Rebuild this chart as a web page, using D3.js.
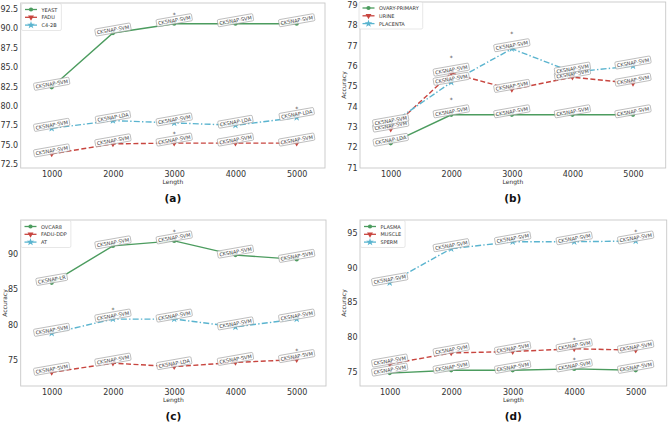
<!DOCTYPE html>
<html><head><meta charset="utf-8">
<title>Accuracy vs Length</title>
<script src="https://cdn.jsdelivr.net/npm/d3@7"></script>
<style>
body { margin: 0; background: #fff; }
text { font-family: "DejaVu Sans", sans-serif; }
</style>
</head>
<body>
<script>

// x categories shared by all panels
var lengths = [1000, 2000, 3000, 4000, 5000];

// (a)
var yeastAcc = [82.4, 89.4, 90.6, 90.6, 90.6];
var faduAcc = [73.8, 75.1, 75.2, 75.2, 75.2];
var c42bAcc = [77.1, 78.1, 77.8, 77.5, 78.5];
var yeastModel = ["CKSNAP-SVM", "CKSNAP-SVM", "CKSNAP-SVM", "CKSNAP-SVM", "CKSNAP-SVM"];
var faduModel = ["CKSNAP-SVM", "CKSNAP-SVM", "CKSNAP-SVM", "CKSNAP-SVM", "CKSNAP-SVM"];
var c42bModel = ["CKSNAP-SVM", "CKSNAP-LDA", "CKSNAP-SVM", "CKSNAP-LDA", "CKSNAP-LDA"];
var ticksA = [72.5, 75.0, 77.5, 80.0, 82.5, 85.0, 87.5, 90.0, 92.5];

// (b)
var ovaryAcc = [72.2, 73.6, 73.6, 73.6, 73.6];
var urineAcc = [72.9, 75.65, 74.85, 75.45, 75.15];
var placentaAcc = [73.15, 75.2, 76.85, 75.7, 76.0];
var ovaryModel = ["CKSNAP-LDA", "CKSNAP-SVM", "CKSNAP-SVM", "CKSNAP-SVM", "CKSNAP-SVM"];
var urineModel = ["CKSNAP-SVM", "CKSNAP-SVM", "CKSNAP-SVM", "CKSNAP-SVM", "CKSNAP-SVM"];
var placentaModel = ["CKSNAP-SVM", "CKSNAP-SVM", "CKSNAP-SVM", "CKSNAP-SVM", "CKSNAP-SVM"];
var ticksB = [71, 72, 73, 74, 75, 76, 77, 78, 79];

// (c)
var ovcar8Acc = [85.9, 91.1, 91.8, 89.8, 89.2];
var faduDdpAcc = [73.3, 74.6, 74.1, 74.7, 75.1];
var atAcc = [78.8, 80.8, 80.8, 79.7, 80.8];
var ovcar8Model = ["CKSNAP-LR", "CKSNAP-SVM", "CKSNAP-SVM", "CKSNAP-SVM", "CKSNAP-SVM"];
var faduDdpModel = ["CKSNAP-SVM", "CKSNAP-SVM", "CKSNAP-LDA", "CKSNAP-SVM", "CKSNAP-SVM"];
var atModel = ["CKSNAP-SVM", "CKSNAP-SVM", "CKSNAP-SVM", "CKSNAP-SVM", "CKSNAP-SVM"];
var ticksC = [75, 80, 85, 90];

// (d)
var plasmaAcc = [74.8, 75.2, 75.2, 75.4, 75.2];
var muscleAcc = [76.1, 77.7, 77.9, 78.3, 78.1];
var spermAcc = [87.8, 92.7, 93.7, 93.7, 93.8];
var plasmaModel = ["CKSNAP-SVM", "CKSNAP-SVM", "CKSNAP-SVM", "CKSNAP-SVM", "CKSNAP-SVM"];
var muscleModel = ["CKSNAP-SVM", "CKSNAP-SVM", "CKSNAP-SVM", "CKSNAP-SVM", "CKSNAP-SVM"];
var spermModel = ["CKSNAP-SVM", "CKSNAP-SVM", "CKSNAP-SVM", "CKSNAP-SVM", "CKSNAP-SVM"];
var ticksD = [75, 80, 85, 90, 95];

// series styles: solid/circle, dashed/triangle-down, dash-dot/star
var styles = [
	{color: "#4c9c5f", dash: null, symbol: d3.symbolCircle, size: 14, rot: 0},
	{color: "#c8453f", dash: "5,2.5", symbol: d3.symbolTriangle, size: 15, rot: 180},
	{color: "#5ab4cf", dash: "6,2.2,1.4,2.2", symbol: d3.symbolStar, size: 18, rot: 0}
];

var panels = [
	{tag: "(a)", box: [20.7, 3, 325, 168], xr: [51.7, 296.7], yd: [72.5, 92.5], yr: [164, 9], ticks: ticksA, fmt: d3.format(".1f"),
	 ylabel: null, star: 10, legend: [21.5, 3.5],
	 series: [["YEAST", yeastAcc, yeastModel], ["FADU", faduAcc, faduModel], ["C4-2B", c42bAcc, c42bModel]]},
	{tag: "(b)", box: [360, 2, 665.7, 168], xr: [390.7, 633], yd: [71, 79], yr: [167.7, 5], ticks: ticksB, fmt: d3.format("d"),
	 ylabel: 344, star: 16, legend: [359, 2],
	 series: [["OVARY-PRIMARY", ovaryAcc, ovaryModel], ["URINE", urineAcc, urineModel], ["PLACENTA", placentaAcc, placentaModel]]},
	{tag: "(c)", box: [20.7, 220, 326, 386], xr: [51.7, 296.7], yd: [75, 90], yr: [360.3, 253.7], ticks: ticksC, fmt: d3.format("d"),
	 ylabel: 5, star: 10, legend: [21, 220.5],
	 series: [["OVCAR8", ovcar8Acc, ovcar8Model], ["FADU-DDP", faduDdpAcc, faduDdpModel], ["AT", atAcc, atModel]]},
	{tag: "(d)", box: [360, 220, 666.7, 386], xr: [389.7, 635.7], yd: [75, 95], yr: [371.7, 232.7], ticks: ticksD, fmt: d3.format("d"),
	 ylabel: 344, star: 10, legend: [360.5, 220.5],
	 series: [["PLASMA", plasmaAcc, plasmaModel], ["MUSCLE", muscleAcc, muscleModel], ["SPERM", spermAcc, spermModel]]}
];

var svg = d3.select("body").append("svg").attr("width", 668).attr("height", 423);

function symbolPath(st) {
	return d3.symbol().type(st.symbol).size(st.size)();
}

panels.forEach(function(p) {
	var g = svg.append("g");
	var x = d3.scaleLinear().domain([1000, 5000]).range(p.xr);
	var y = d3.scaleLinear().domain(p.yd).range(p.yr);
	var b = p.box;

	g.append("rect")
		.attr("x", b[0]).attr("y", b[1])
		.attr("width", b[2] - b[0]).attr("height", b[3] - b[1])
		.attr("fill", "none").attr("stroke", "#c8c8c8").attr("stroke-width", 0.9);

	// axes without tick marks, only labels
	var xAxis = g.append("g").attr("transform", "translate(0," + b[3] + ")")
		.call(d3.axisBottom(x).tickValues(lengths).tickFormat(d3.format("d")).tickSize(0).tickPadding(3));
	var yAxis = g.append("g").attr("transform", "translate(" + b[0] + ",0)")
		.call(d3.axisLeft(y).tickValues(p.ticks).tickFormat(p.fmt).tickSize(0).tickPadding(2.5));
	[xAxis, yAxis].forEach(function(a) {
		a.select(".domain").remove();
		a.selectAll("text").attr("font-size", 8).attr("fill", "#333").attr("font-family", "DejaVu Sans");
	});

	g.append("text").attr("x", (b[0] + b[2]) / 2).attr("y", b[3] + 15.8)
		.attr("text-anchor", "middle").attr("font-size", 6).attr("fill", "#333").text("Length");
	if (p.ylabel !== null) {
		g.append("text")
			.attr("transform", "translate(" + p.ylabel + "," + ((b[1] + b[3]) / 2) + ") rotate(-90)")
			.attr("text-anchor", "middle").attr("dominant-baseline", "middle")
			.attr("font-size", 6).attr("fill", "#333").text("Accuracy");
	}
	g.append("text").attr("x", (b[0] + b[2]) / 2).attr("y", b[3] + 33.5)
		.attr("text-anchor", "middle").attr("font-size", 10.5).attr("font-weight", "bold")
		.attr("font-family", "Liberation Sans, Arial, sans-serif").attr("fill", "#111").text(p.tag);

	var line = d3.line().x(function(d) { return x(d[0]); }).y(function(d) { return y(d[1]); });

	// lines and markers
	p.series.forEach(function(s, i) {
		var st = styles[i];
		var pts = lengths.map(function(l, k) { return [l, s[1][k]]; });
		g.append("path").datum(pts).attr("d", line)
			.attr("fill", "none").attr("stroke", st.color).attr("stroke-width", 1.4)
			.attr("stroke-dasharray", st.dash);
		g.append("g").selectAll("path").data(pts).enter().append("path")
			.attr("d", symbolPath(st))
			.attr("transform", function(d) { return "translate(" + x(d[0]) + "," + y(d[1]) + ") rotate(" + st.rot + ")"; })
			.attr("fill", st.color);
	});

	// model name boxes and best marker
	p.series.forEach(function(s, i) {
		var best = d3.maxIndex(s[1]);
		lengths.forEach(function(l, k) {
			var cx = x(l), cy = y(s[1][k]) - 3.5;
			var lg = g.append("g").attr("transform", "translate(" + cx + "," + cy + ") rotate(-10)");
			var t = lg.append("text").attr("text-anchor", "middle").attr("dominant-baseline", "central")
				.attr("font-size", 5).attr("fill", "#444").text(s[2][k]);
			var w = t.node().getComputedTextLength();
			lg.insert("rect", "text")
				.attr("x", -w / 2 - 1.6).attr("y", -3.6).attr("width", w + 3.2).attr("height", 7.2)
				.attr("rx", 1.2).attr("fill", "#fff").attr("fill-opacity", 0.85)
				.attr("stroke", "#9a9a9a").attr("stroke-width", 0.6);
			if (k === best) {
				g.append("text").attr("x", cx).attr("y", y(s[1][k]) - p.star + 3)
					.attr("text-anchor", "middle").attr("font-size", 6).attr("fill", "#444").text("*");
			}
		});
	});

	// legend
	var lx = p.legend[0], ly = p.legend[1];
	var leg = g.append("g");
	var maxW = 0;
	p.series.forEach(function(s, i) {
		var st = styles[i];
		var ey = ly + 6 + i * 7.8;
		leg.append("line").attr("x1", lx + 3.5).attr("x2", lx + 15.5).attr("y1", ey).attr("y2", ey)
			.attr("stroke", st.color).attr("stroke-width", 1.3);
		leg.append("path").attr("d", symbolPath(st))
			.attr("transform", "translate(" + (lx + 9.5) + "," + ey + ") rotate(" + st.rot + ")")
			.attr("fill", st.color);
		var t = leg.append("text").attr("x", lx + 20).attr("y", ey).attr("dominant-baseline", "central")
			.attr("font-size", 5).attr("fill", "#333").text(s[0]);
		maxW = Math.max(maxW, t.node().getComputedTextLength());
	});
	leg.insert("rect", ":first-child")
		.attr("x", lx).attr("y", ly).attr("width", 20 + maxW + 4).attr("height", 27)
		.attr("rx", 1.5).attr("fill", "#fff").attr("fill-opacity", 0.85)
		.attr("stroke", "#d6d6d6").attr("stroke-width", 0.6);
});

</script>
</body></html>
